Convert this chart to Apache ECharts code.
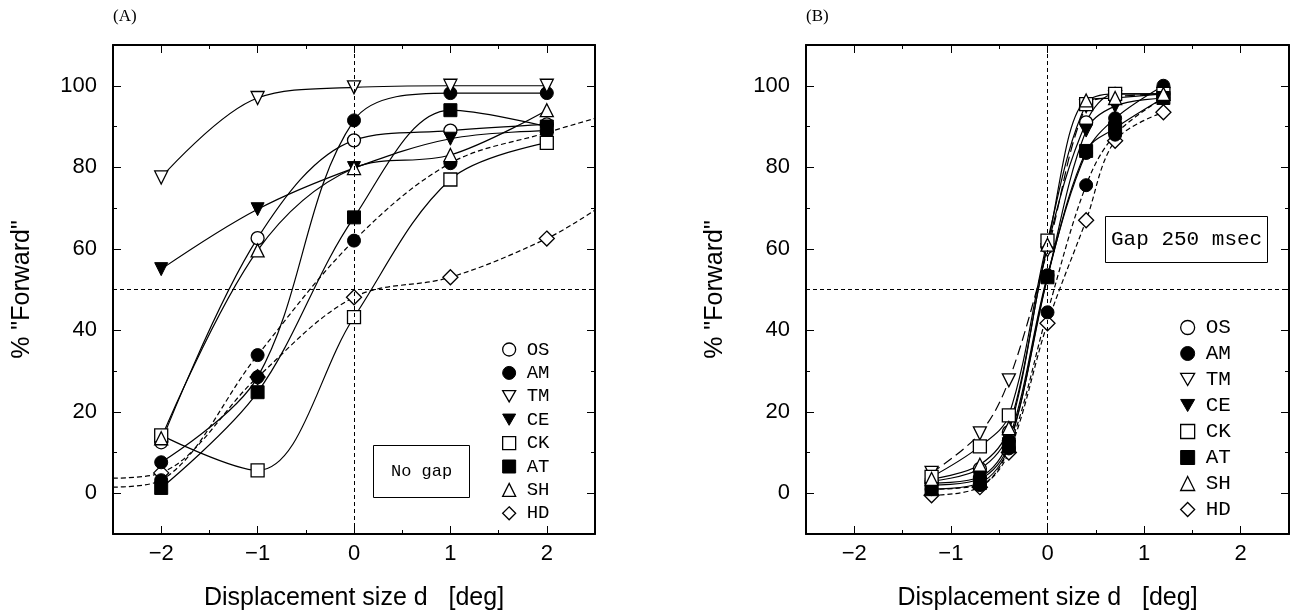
<!DOCTYPE html>
<html lang="en">
<head>
    <meta charset="UTF-8">
    <title>Forward responses</title>
    <script src="https://cdn.jsdelivr.net/npm/echarts@6/dist/echarts.min.js"></script>
    <style>
        html, body { margin: 0; padding: 0; background: #fff; }
        #chart { width: 1295px; height: 616px; }
    </style>
</head>
<body>
<div id="chart"></div>

<script type="text/javascript">
    // ---- data ----
    var xsA = [-2, -1, 0, 1, 2];
    var xsB = [-1.2, -0.7, -0.4, 0, 0.4, 0.7, 1.2];

    var xTicks = [-2, -1, 0, 1, 2];
    var xMinor = [-1.5, -0.5, 0.5, 1.5];
    var yTicks = [0, 20, 40, 60, 80, 100];
    var yMinor = [10, 30, 50, 70, 90];

    // (A) no gap
    var osA  = [12.5, 62.6, 86.6, 89, 90.5];
    var amA  = [7.6, 28.5, 91.5, 98.2, 98.2];
    var am2A = [3.2, 33.9, 62, 81, 88.5];
    var tmA  = [77.5, 97, 99.6, 100, 100];
    var ceA  = [55, 69.7, 79.8, 87, 89];
    var ckA  = [14.2, 5.6, 43.2, 77, 86];
    var atA  = [1.3, 24.8, 67.7, 94, 90];
    var shA  = [13.5, 59.6, 79.8, 83, 94];
    var hdA  = [5, 28.5, 48.1, 53, 62.5];
    var am2AEdge = [1.5, 92];   // dashed curve at x = -2.5 / 2.5
    var hdAEdge  = [3.7, 69.5];

    // (B) gap 250 msec
    var osB  = [3, 6, 15, 60.5, 91, 98, 98];
    var amB  = [2.5, 4, 13, 53.5, 83.5, 92, 100];
    var am2B = [1, 2, 11, 44.4, 75.6, 88, 97];
    var tmB  = [5, 14.7, 27.7, 59.6, 95, 97.2, 98];
    var ceB  = [2, 3.5, 12, 53, 89, 95, 97];
    var ckB  = [4, 11.5, 19.1, 62, 95.5, 98, 98];
    var atB  = [1, 2.5, 11.5, 53, 84, 89.6, 97];
    var shB  = [3.5, 7, 16, 61, 96.4, 97, 98];
    var hdB  = [-0.5, 1.5, 10, 41.7, 67, 86.5, 93.5];

    // ---- styles ----
    var downTri = 'path://M0,0L20,0L10,17.3Z';
    var openStyle = {color: '#fff', borderColor: '#000', borderWidth: 1.3};
    var fillStyle = {color: '#000', borderColor: '#000', borderWidth: 1};
    var marks = {
        OS: {symbol: 'circle', style: openStyle},
        AM: {symbol: 'circle', style: fillStyle},
        TM: {symbol: downTri, style: openStyle},
        CE: {symbol: downTri, style: fillStyle},
        CK: {symbol: 'rect', style: openStyle},
        AT: {symbol: 'rect', style: fillStyle},
        SH: {symbol: 'triangle', style: openStyle},
        HD: {symbol: 'diamond', style: openStyle}
    };
    var names = ['OS', 'AM', 'TM', 'CE', 'CK', 'AT', 'SH', 'HD'];

    function pts(xs, ys, edge) {
        var d = xs.map(function (x, i) { return [x, ys[i]]; });
        if (edge) {
            d.unshift({value: [-2.5, edge[0]], symbol: 'none'});
            d.push({value: [2.5, edge[1]], symbol: 'none'});
        }
        return d;
    }

    function mkSeries(g, name, xs, ys, dash, edge, z) {
        var m = marks[name];
        return {
            type: 'line',
            name: name,
            xAxisIndex: g * 4,
            yAxisIndex: g * 4,
            data: pts(xs, ys, edge),
            symbol: m.symbol,
            symbolSize: name === 'HD' ? 15 : 13,
            itemStyle: m.style,
            lineStyle: {color: '#000', width: 1.2, type: dash || 'solid'},
            smooth: 0.35,
            z: z || 2,
            silent: true
        };
    }

    var axisFont = {color: '#000', fontFamily: 'Liberation Sans', fontSize: 22};
    var titleFont = {color: '#000', fontFamily: 'Liberation Sans', fontSize: 25};

    function xAxesFor(g) {
        var base = {type: 'value', gridIndex: g, min: -2.5, max: 2.5, splitLine: {show: false}};
        var line = {onZero: false, lineStyle: {color: '#000', width: 2}};
        var noLine = {show: false, onZero: false};
        return [
            Object.assign({}, base, {
                position: 'bottom', axisLine: line,
                axisTick: {inside: true, length: 8, customValues: xTicks, lineStyle: {color: '#000'}},
                axisLabel: Object.assign({customValues: xTicks, margin: 9,
                    formatter: function (v) { return v < 0 ? '\u2212' + (-v) : '' + v; }}, axisFont),
                name: 'Displacement size d   [deg]', nameLocation: 'middle', nameGap: 52,
                nameTextStyle: titleFont
            }),
            Object.assign({}, base, {
                position: 'bottom', axisLine: noLine,
                axisTick: {inside: true, length: 4, customValues: xMinor, lineStyle: {color: '#000'}},
                axisLabel: {show: false}
            }),
            Object.assign({}, base, {
                position: 'top', axisLine: line,
                axisTick: {inside: true, length: 8, customValues: xTicks, lineStyle: {color: '#000'}},
                axisLabel: {show: false}
            }),
            Object.assign({}, base, {
                position: 'top', axisLine: noLine,
                axisTick: {inside: true, length: 4, customValues: xMinor, lineStyle: {color: '#000'}},
                axisLabel: {show: false}
            })
        ];
    }

    function yAxesFor(g) {
        var base = {type: 'value', gridIndex: g, min: -10, max: 110, splitLine: {show: false}};
        var line = {onZero: false, lineStyle: {color: '#000', width: 2}};
        var noLine = {show: false, onZero: false};
        return [
            Object.assign({}, base, {
                position: 'left', axisLine: line,
                axisTick: {inside: true, length: 8, customValues: yTicks, lineStyle: {color: '#000'}},
                axisLabel: Object.assign({customValues: yTicks, margin: 16}, axisFont),
                name: '% "Forward"', nameLocation: 'middle', nameGap: 78,
                nameTextStyle: titleFont
            }),
            Object.assign({}, base, {
                position: 'left', axisLine: noLine,
                axisTick: {inside: true, length: 4, customValues: yMinor, lineStyle: {color: '#000'}},
                axisLabel: {show: false}
            }),
            Object.assign({}, base, {
                position: 'right', axisLine: line,
                axisTick: {inside: true, length: 8, customValues: yTicks, lineStyle: {color: '#000'}},
                axisLabel: {show: false}
            }),
            Object.assign({}, base, {
                position: 'right', axisLine: noLine,
                axisTick: {inside: true, length: 4, customValues: yMinor, lineStyle: {color: '#000'}},
                axisLabel: {show: false}
            })
        ];
    }

    function refLines() {
        return {
            silent: true,
            symbol: 'none',
            label: {show: false},
            lineStyle: {color: '#000', width: 1, type: [4, 3]},
            data: [{yAxis: 50}, {xAxis: 0}]
        };
    }

    var legendData = names.map(function (n) {
        return {name: n, icon: marks[n].symbol, itemStyle: marks[n].style};
    });

    var seriesA = [
        mkSeries(0, 'HD', xsA, hdA, [5, 3], hdAEdge, 1),
        mkSeries(0, 'AM', xsA, am2A, [5, 3], am2AEdge, 1),
        mkSeries(0, 'OS', xsA, osA),
        mkSeries(0, 'AM', xsA, amA),
        mkSeries(0, 'TM', xsA, tmA),
        mkSeries(0, 'CE', xsA, ceA),
        mkSeries(0, 'CK', xsA, ckA),
        mkSeries(0, 'AT', xsA, atA),
        mkSeries(0, 'SH', xsA, shA)
    ];
    seriesA[0].markLine = refLines();

    var seriesB = [
        mkSeries(1, 'HD', xsB, hdB, [5, 3], null, 1),
        mkSeries(1, 'AM', xsB, am2B, [5, 3], null, 1),
        mkSeries(1, 'OS', xsB, osB),
        mkSeries(1, 'AM', xsB, amB),
        mkSeries(1, 'TM', xsB, tmB, [10, 5]),
        mkSeries(1, 'CE', xsB, ceB),
        mkSeries(1, 'CK', xsB, ckB),
        mkSeries(1, 'AT', xsB, atB),
        mkSeries(1, 'SH', xsB, shB)
    ];
    seriesB[0].markLine = refLines();

    var chart = echarts.init(document.getElementById('chart'));
    chart.setOption({
        animation: false,
        backgroundColor: '#fff',
        title: [
            {text: '(A)', left: 108, top: 3, textStyle: {fontFamily: 'Liberation Serif', fontSize: 17, fontWeight: 'normal', color: '#000'}},
            {text: '(B)', left: 801, top: 3, textStyle: {fontFamily: 'Liberation Serif', fontSize: 17, fontWeight: 'normal', color: '#000'}},
            {text: 'No gap', left: 373, top: 445, borderColor: '#000', borderWidth: 1, padding: [18, 18],
                textStyle: {fontFamily: 'Liberation Mono', fontSize: 17, fontWeight: 'normal', color: '#000'}},
            {text: 'Gap 250 msec', left: 1105, top: 216, borderColor: '#000', borderWidth: 1, padding: [13, 6],
                textStyle: {fontFamily: 'Liberation Mono', fontSize: 21, fontWeight: 'normal', color: '#000'}}
        ],
        grid: [
            {left: 113, right: 700, top: 45, bottom: 81},
            {left: 806, right: 6, top: 45, bottom: 81}
        ],
        legend: [
            {orient: 'vertical', left: 502, top: 340, padding: 0, itemWidth: 13, itemHeight: 13, itemGap: 4.4,
                selectedMode: false, data: legendData,
                textStyle: {fontFamily: 'Liberation Mono', fontSize: 19, color: '#000', padding: [0, 0, 0, 6]}},
            {orient: 'vertical', left: 1180, top: 317, padding: 0, itemWidth: 14, itemHeight: 14, itemGap: 5,
                selectedMode: false, data: legendData,
                textStyle: {fontFamily: 'Liberation Mono', fontSize: 21, color: '#000', padding: [0, 0, 0, 6]}}
        ],
        xAxis: xAxesFor(0).concat(xAxesFor(1)),
        yAxis: yAxesFor(0).concat(yAxesFor(1)),
        series: seriesA.concat(seriesB)
    });
</script>
</body>
</html>
